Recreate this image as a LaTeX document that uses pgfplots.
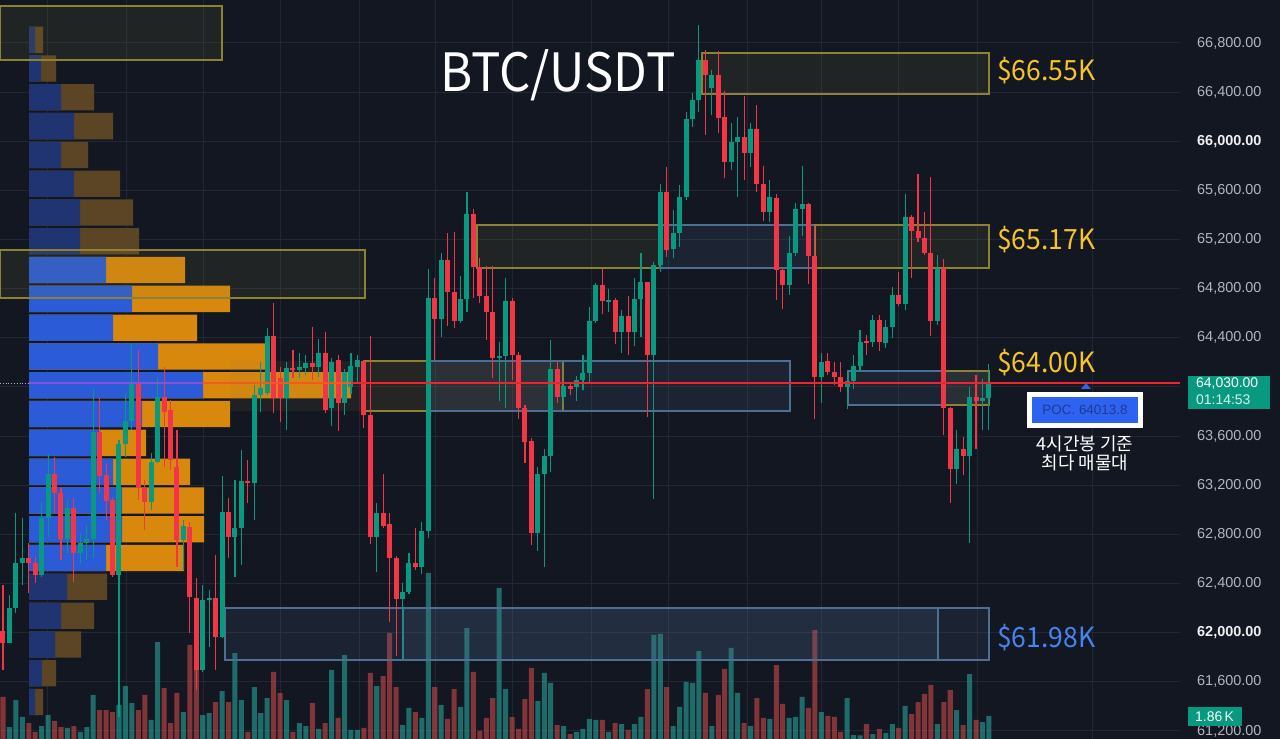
\documentclass[border=0pt]{standalone}
\usepackage{pgfplots}
\pgfplotsset{compat=1.18}
\usepackage{pgfplotstable}
\usepackage{graphicx}
\usepackage{fontspec}
\setmainfont{Noto Sans}
\newfontfamily\kr{Noto Sans CJK KR}
\newfontfamily\lib{Liberation Sans}
\definecolor{bg}{HTML}{131722}
\definecolor{gridc}{HTML}{232733}
\definecolor{upc}{HTML}{089981}
\definecolor{dnc}{HTML}{F23645}
\definecolor{pline}{HTML}{F2232B}
\definecolor{plineb}{HTML}{8A4FD6}
\definecolor{plineo}{HTML}{F25A1E}
\definecolor{vup}{HTML}{26A69A}
\definecolor{vdn}{HTML}{EF5350}
\definecolor{pblue}{HTML}{2B5BD7}
\definecolor{porange}{HTML}{D9880E}
\definecolor{dblue}{HTML}{1F3470}
\definecolor{dorange}{HTML}{5C4524}
\definecolor{zyel}{HTML}{8C8236}
\definecolor{zblu}{HTML}{4E6E94}
\definecolor{lblY}{HTML}{F7C325}
\definecolor{lblB}{HTML}{4684F0}
\definecolor{tickc}{HTML}{B2B5BE}
\definecolor{tagc}{HTML}{089981}
\definecolor{pocb}{HTML}{2E62F0}
\definecolor{poct}{HTML}{1F3A96}

\pgfplotstableread{
i o h l c v
0 62014 62388 61696 61916 3.40
1 61916 62307 61916 62201 0.97
2 62201 62974 62160 62567 3.15
3 62567 62933 62388 62608 1.78
4 62608 62730 62323 62567 1.29
5 62567 62616 62404 62470 0.57
6 62470 63064 62453 62933 1.05
7 62933 63454 62779 63292 1.94
8 63292 63430 62974 63137 1.46
9 63137 63178 62592 62763 0.97
10 62763 63080 62649 63015 0.89
11 63015 63096 62413 62649 1.05
12 62649 62811 62567 62730 0.57
13 62730 62877 62592 62763 0.97
14 62763 63984 62608 63634 3.56
15 63634 63910 63137 63275 2.34
16 63284 63381 62917 63072 2.34
17 63080 63104 62453 62470 2.18
18 62470 63568 61314 63536 2.75
19 63536 63951 63430 63723 4.28
20 63723 64358 63650 64032 2.91
21 64032 64301 63080 63178 2.34
22 63178 63243 62836 63064 3.56
23 63064 63463 62999 63389 1.54
24 63389 64081 63381 63918 7.84
25 63918 64163 63349 63796 4.12
26 63813 63894 63324 63406 1.29
27 63349 63650 62535 62754 3.72
28 62754 62917 62510 62868 2.18
29 62860 62901 61997 62290 7.60
30 62282 62445 61533 61696 5.58
31 61696 62388 61680 62266 1.94
32 62266 62347 61883 62282 2.10
33 62282 62632 61696 61965 2.99
34 61965 63275 61957 62982 3.88
35 62982 63096 62608 62779 2.99
36 62779 63243 62453 62852 6.95
37 62852 63487 62551 63235 3.15
38 63235 63406 63056 63218 0.57
39 63218 64016 62917 63935 4.20
40 63935 64203 63796 63992 2.10
41 63951 64480 63935 64415 3.31
42 64415 64684 63788 63910 5.42
43 64073 64163 63715 63910 3.72
44 63910 64203 63650 64154 3.15
45 64154 64301 64073 64138 0.57
46 64138 64277 64073 64163 1.29
47 64154 64260 64098 64195 1.05
48 64195 64488 64057 64163 2.91
49 64163 64391 64081 64277 0.81
50 64277 64448 63788 63813 1.29
51 63829 64236 63682 64203 5.58
52 64220 64260 63642 63870 1.70
53 63870 64146 63772 64122 6.79
54 64000 64277 63943 64171 0.73
55 64163 64260 64032 64220 0.73
56 64212 64220 63666 63772 0.89
57 63772 64415 62722 62779 5.34
58 62779 63056 62494 62974 4.28
59 62974 63292 62852 62868 5.09
60 62885 62974 62087 62608 8.57
61 62608 62624 61810 62274 4.20
62 62274 62404 61778 62331 1.13
63 62331 62649 62315 62567 2.51
64 62567 62852 62510 62535 2.18
65 62535 62901 62478 62828 1.70
66 62828 64960 62771 64724 13.42
67 64724 64887 64220 64553 4.20
68 64553 65091 64407 65034 2.75
69 65034 65253 64496 64773 1.62
70 64773 65262 64480 64537 4.04
71 64537 64903 64521 64716 2.59
72 64716 65587 64610 65408 8.97
73 65408 65449 64724 64977 5.42
74 64977 65050 64684 64741 0.65
75 64741 64985 64382 64610 1.70
76 64610 64985 64073 64236 3.31
77 64236 64366 63886 64252 12.21
78 64252 64887 63829 64700 4.04
79 64700 64724 64057 64260 1.78
80 64260 64285 63739 63829 0.81
81 63829 63853 63381 63552 3.23
82 63560 63585 62714 62811 5.74
83 62811 63349 62665 63292 3.07
84 63292 63495 62535 63438 5.34
85 63438 64382 63308 64146 4.53
86 64146 64203 63870 63918 1.13
87 63918 64016 63870 64008 1.05
88 64008 64032 63935 63984 0.40
89 64000 64089 63886 64057 0.57
90 64057 64260 63975 64114 0.81
91 64114 64651 64032 64537 1.62
92 64537 64846 64521 64830 1.54
93 64830 64960 64594 64700 1.54
94 64692 64798 64610 64708 0.57
95 64708 64724 64350 64448 1.29
96 64448 64627 64277 64578 1.21
97 64578 64741 64260 64448 0.73
98 64448 64887 64334 64716 1.21
99 64716 65091 64407 64855 1.78
100 64855 64855 63756 64260 4.04
101 64260 65017 63088 64993 8.41
102 64993 65652 64936 65587 8.49
103 65587 65791 65058 65115 4.20
104 65123 65441 65050 65253 1.05
105 65253 65644 65139 65546 2.59
106 65546 66238 65522 66181 4.61
107 66181 66393 66116 66336 4.53
108 66336 66947 66238 66662 7.11
109 66662 66743 66051 66540 3.72
110 66434 66580 66214 66540 1.05
111 66540 66735 66067 66190 3.56
112 66198 66409 65701 65831 5.66
113 65831 66149 65766 65994 7.36
114 65994 66198 65546 66035 3.72
115 66035 66369 65685 65905 1.29
116 65905 66149 65791 66100 1.05
117 66100 66295 65587 65652 3.31
118 65652 65799 65351 65424 1.70
119 65424 65685 65343 65546 1.62
120 65538 65571 64708 64952 5.98
121 64952 64969 64635 64830 2.83
122 64830 65229 64749 65091 1.70
123 65091 65498 65066 65449 1.78
124 65449 65799 65229 65489 3.40
125 65489 65498 64838 65066 2.51
126 65066 65310 63739 64081 8.81
127 64081 64277 63870 64203 2.18
128 64212 64277 64098 64122 1.86
129 64122 64203 64016 64081 1.78
130 64081 64203 63959 64000 0.57
131 64000 64122 63821 64049 3.31
132 64049 64260 63984 64171 0.32
133 64171 64464 64122 64366 0.30
134 64374 64423 64260 64366 1.21
135 64366 64586 64325 64545 0.40
136 64545 64586 64293 64366 0.81
137 64358 64545 64317 64488 0.49
138 64488 64814 64399 64749 1.21
139 64749 64936 64659 64675 0.89
140 64675 65571 64627 65384 2.67
141 65384 65400 64887 65270 2.02
142 65270 65734 65180 65213 2.99
143 65213 65424 65074 65091 3.64
144 65091 65709 64415 64537 4.37
145 64537 65074 64505 64969 1.21
146 64969 65042 63609 63829 2.99
147 63829 63837 63056 63332 3.96
148 63332 63650 63210 63495 2.34
149 63495 63593 63284 63438 1.13
150 63438 64000 62730 63918 5.25
151 63918 64098 63495 63886 1.54
152 63886 64065 63650 63910 1.37
153 63910 64187 63650 64030 1.86
}\candles

\pgfplotstableread{
p b t va
66826.6 6 14 0
66592.2 12 27 0
66357.8 32 65 0
66123.4 45 84 0
65889.0 32 59 0
65654.6 45 91 0
65420.2 51 104 0
65185.8 51 110 0
64951.4 77 156 1
64717.0 103 201 1
64482.6 84 168 1
64248.2 129 240 1
64013.8 174 322 1
63779.4 113 201 1
63545.0 71 117 1
63310.6 84 161 1
63076.2 93 175 1
62841.8 93 175 1
62607.4 77 155 1
62373.0 38 78 0
62138.6 32 65 0
61904.2 26 52 0
61669.8 13 27 0
61435.4 6 14 0
}\profile

\pgfplotsset{
  base/.style={at={(0,0)}, anchor=south west, scale only axis,
    width=1180bp, height=739bp, axis line style={draw=none},
    major tick length=0pt, scaled x ticks=false, scaled y ticks=false},
  pricex/.style={xmin=-0.4655, xmax=182.65, ymin=61134.5, ymax=67150},
  candle/.style 2 args={draw=none, mark=none, forget plot,
    error bars/.cd, y dir=both, y explicit, error mark=none,
    error bar style={draw=#1, line width=#2, line cap=butt}},
}

\begin{document}
\begin{tikzpicture}
\fill[bg, use as bounding box] (0,0) rectangle (1280bp,739bp);

% grid and price scale
\begin{axis}[base, pricex,
  xtick={6.98,19.09,31.04,43.14,55.25,67.04,79.14,91.25,103.35,115.46,127.09,139.04,151.15,169.15},
  xticklabels={},
  ytick={61200,61600,62000,62400,62800,63200,63600,64000,64400,64800,65200,65600,66000,66400,66800},
  yticklabels={{61,200.00},{61,600.00},{\textcolor{white!80!tickc}{\bfseries 62,000.00}},{62,400.00},{62,800.00},{63,200.00},{63,600.00},{},{64,400.00},{64,800.00},{65,200.00},{65,600.00},{\textcolor{white!80!tickc}{\bfseries 66,000.00}},{66,400.00},{66,800.00}},
  yticklabel pos=right,
  yticklabel style={font=\lib\fontsize{14.5}{16}\selectfont, text=tickc, anchor=west, inner sep=0pt, xshift=17bp},
  xmajorgrids, ymajorgrids,
  major grid style={gridc, line width=1bp},
]
\addplot[draw=none, forget plot] coordinates {(0,64000)};
\end{axis}

% volume profile
\begin{axis}[base, hide axis, xmin=-29, xmax=1151, ymin=61134.5, ymax=67150,
  xbar, bar shift=0pt, bar width=214]
\addplot[draw=none, fill=dorange] table[y=p, x expr={\thisrow{va}<0.5 ? \thisrow{t} : nan}] {\profile};
\addplot[draw=none, fill=dblue] table[y=p, x expr={\thisrow{va}<0.5 ? \thisrow{b} : nan}] {\profile};
\addplot[draw=none, fill=porange] table[y=p, x expr={\thisrow{va}>0.5 ? \thisrow{t} : nan}] {\profile};
\addplot[draw=none, fill=pblue] table[y=p, x expr={\thisrow{va}>0.5 ? \thisrow{b} : nan}] {\profile};
\end{axis}

% volume bars
\begin{axis}[base, hide axis, xmin=-0.4655, xmax=182.65, ymin=0, ymax=59.74,
  ybar, bar shift=0pt, bar width=0.78]
\addplot[draw=none, fill=vup, fill opacity=0.6] table[x=i, y expr={\thisrow{c}>=\thisrow{o} ? \thisrow{v} : nan}] {\candles};
\addplot[draw=none, fill=vdn, fill opacity=0.5] table[x=i, y expr={\thisrow{c}<\thisrow{o} ? \thisrow{v} : nan}] {\candles};
\end{axis}

% zones and candles
\begin{axis}[base, hide axis, pricex]
\draw[zyel, line width=1.2bp, fill=zyel, fill opacity=0.12] (axis cs:-0.47,67101) rectangle (axis cs:33.98,66662);
\draw[zyel, line width=1.2bp, fill=zyel, fill opacity=0.12] (axis cs:108.47,66719) rectangle (axis cs:153.0,66385);
\draw[zyel, line width=1.2bp, fill=zyel, fill opacity=0.12] (axis cs:-0.47,65115) rectangle (axis cs:56.18,64724);
\draw[zyel, line width=1.2bp, fill=zyel, fill opacity=0.12] (axis cs:73.56,65319) rectangle (axis cs:101.96,64969);
\draw[zblu, line width=1.2bp, fill=zblu, fill opacity=0.16] (axis cs:101.96,65319) rectangle (axis cs:126.0,64969);
\draw[zyel, line width=1.2bp, fill=zyel, fill opacity=0.12] (axis cs:126.0,65319) rectangle (axis cs:153.0,64969);
\fill[zyel, fill opacity=0.10] (axis cs:35.2,64211) rectangle (axis cs:56.18,63805);
\draw[zyel, line width=1.2bp, fill=zyel, fill opacity=0.15] (axis cs:56.18,64211) rectangle (axis cs:86.9,63805);
\draw[zblu, line width=1.2bp, fill=zblu, fill opacity=0.16] (axis cs:66.26,64211) rectangle (axis cs:122.13,63805);
\draw[zblu, line width=1.2bp, fill=zblu, fill opacity=0.16] (axis cs:131.13,64130) rectangle (axis cs:153.0,63853);
\draw[zyel, line width=1.2bp, fill=zyel, fill opacity=0.12] (axis cs:146.18,64130) rectangle (axis cs:153.0,63853);
\draw[zblu, line width=1.2bp, fill=zblu, fill opacity=0.14] (axis cs:34.45,62201) rectangle (axis cs:145.1,61778);
\draw[zblu, line width=1.2bp, fill=zblu, fill opacity=0.14] (axis cs:62.07,62201) rectangle (axis cs:153.0,61778);

% wicks
\addplot[candle={upc}{1.1bp}]
  table[x=i, y expr={\thisrow{c}>=\thisrow{o} ? (\thisrow{h}+\thisrow{l})/2 : nan}, y error expr={(\thisrow{h}-\thisrow{l})/2}] {\candles};
\addplot[candle={dnc}{1.1bp}]
  table[x=i, y expr={\thisrow{c}<\thisrow{o} ? (\thisrow{h}+\thisrow{l})/2 : nan}, y error expr={(\thisrow{h}-\thisrow{l})/2}] {\candles};
% bodies
\addplot[candle={upc}{5bp}]
  table[x=i, y expr={\thisrow{c}>=\thisrow{o} ? (\thisrow{o}+\thisrow{c})/2 : nan}, y error expr={max(abs(\thisrow{c}-\thisrow{o})/2,5)}] {\candles};
\addplot[candle={dnc}{5bp}]
  table[x=i, y expr={\thisrow{c}<\thisrow{o} ? (\thisrow{o}+\thisrow{c})/2 : nan}, y error expr={max(abs(\thisrow{c}-\thisrow{o})/2,5)}] {\candles};

% last price line
\addplot[draw=pline, line width=2bp, mark=none, forget plot] coordinates {(54.0,64030) (182.65,64030)};
\addplot[draw=plineo, line width=2bp, mark=none, forget plot] coordinates {(31.04,64030) (54.0,64030)};
\addplot[draw=plineb, line width=2bp, mark=none, forget plot] coordinates {(4.03,64030) (31.04,64030)};
\addplot[draw=tickc, dotted, line width=0.8bp, mark=none, forget plot] coordinates {(-0.47,64030) (4.03,64030)};
\end{axis}

% labels
\node[anchor=base west, inner sep=0pt, text=white] at (440bp,647bp) {\scalebox{0.93}[1]{\kr\fontsize{53}{58}\selectfont BTC/USDT}};
\node[anchor=base west, inner sep=0pt, text=lblY] at (997bp,658bp) {\scalebox{0.95}[1]{\kr\fontsize{28}{32}\selectfont \$66.55K}};
\node[anchor=base west, inner sep=0pt, text=lblY] at (997bp,489bp) {\scalebox{0.95}[1]{\kr\fontsize{28}{32}\selectfont \$65.17K}};
\node[anchor=base west, inner sep=0pt, text=lblY] at (997bp,366bp) {\scalebox{0.95}[1]{\kr\fontsize{28}{32}\selectfont \$64.00K}};
\node[anchor=base west, inner sep=0pt, text=lblB] at (997bp,91bp) {\scalebox{0.95}[1]{\kr\fontsize{28}{32}\selectfont \$61.98K}};

% price tag
\fill[tagc] (1188bp,330bp) rectangle (1270bp,363bp);
\node[anchor=west, inner sep=0pt, text=white] at (1196bp,355bp) {\lib\fontsize{14}{16}\selectfont 64,030.00};
\node[anchor=west, inner sep=0pt, text=white!85!tagc] at (1196bp,339bp) {\lib\fontsize{14}{16}\selectfont 01:14:53};
% volume tag
\fill[tagc] (1188bp,13bp) rectangle (1242bp,32bp);
\node[anchor=west, inner sep=0pt, text=white] at (1195bp,22.5bp) {\lib\fontsize{14}{16}\selectfont 1.86\,K};

% POC box
\fill[white] (1027bp,311bp) rectangle (1143bp,347bp);
\fill[pocb] (1032bp,316bp) rectangle (1138bp,342bp);
\node[inner sep=0pt, text=poct] at (1085bp,329bp) {\lib\fontsize{13.5}{15}\selectfont POC. 64013.8};
\fill[pocb] (1081bp,350bp) -- (1091bp,350bp) -- (1086bp,356bp) -- cycle;
\node[anchor=base, inner sep=0pt, text=white] at (1085bp,288bp) {\kr\fontsize{18}{20}\selectfont 4시간봉 기준};
\node[anchor=base, inner sep=0pt, text=white] at (1085bp,269bp) {\kr\fontsize{18}{20}\selectfont 최다 매물대};
\end{tikzpicture}
\end{document}
